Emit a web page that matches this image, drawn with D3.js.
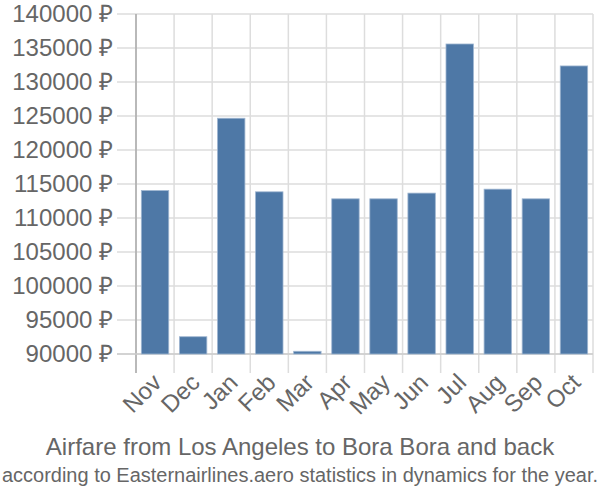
<!DOCTYPE html>
<html><head><meta charset="utf-8">
<script src="https://cdn.jsdelivr.net/npm/d3@7"></script>
<style>body{margin:0;background:#fff}text{font-family:"Liberation Sans",Arial,sans-serif;fill:#666}</style>
</head><body><svg id="c" width="600" height="500"></svg>
<script>
const months = ["Nov","Dec","Jan","Feb","Mar","Apr","May","Jun","Jul","Aug","Sep","Oct"];
const prices = [114040,92540,124670,113850,90400,112820,112820,113660,135590,114240,112820,132360];
const yTicks = [90000,95000,100000,105000,110000,115000,120000,125000,130000,135000,140000];
const titleText = "Airfare from Los Angeles to Bora Bora and back";
const subtitleText = "according to Easternairlines.aero statistics in dynamics for the year.";

const svg = d3.select("#c");
const m = {l:136, r:7, t:14, b:146};
const W = 600, H = 500;
const x = d3.scaleBand().domain(months).range([m.l, W-m.r]).paddingInner(0.28).paddingOuter(0.14);
const y = d3.scaleLinear().domain([90000,140000]).range([H-m.b, m.t]);

const g = svg.append("g");
g.selectAll(".hg").data(yTicks).join("line")
  .attr("x1", m.l-19).attr("x2", W-m.r)
  .attr("y1", d=>y(d)).attr("y2", d=>y(d))
  .attr("stroke","#dddddd").attr("stroke-width",1.5);
const bounds = months.map(d=>x(d) - (x.step()-x.bandwidth())/2);
bounds.push(W-m.r);
g.selectAll(".vg").data(bounds).join("line")
  .attr("x1", d=>d).attr("x2", d=>d)
  .attr("y1", m.t).attr("y2", H-m.b+19)
  .attr("stroke","#dddddd").attr("stroke-width",1.5);
svg.append("line").attr("x1",m.l).attr("x2",m.l).attr("y1",m.t).attr("y2",H-m.b+19).attr("stroke","#aaaaaa").attr("stroke-width",1.5);
svg.append("line").attr("x1",m.l-19).attr("x2",W-m.r).attr("y1",H-m.b).attr("y2",H-m.b).attr("stroke","#cccccc").attr("stroke-width",1.5);

svg.selectAll(".bar").data(months).join("rect")
  .attr("x", d=>x(d)).attr("width", x.bandwidth())
  .attr("y", (d,i)=>y(prices[i])).attr("height", (d,i)=>y(90000)-y(prices[i]))
  .attr("fill","#4e78a6").attr("stroke","#9fb6d1").attr("stroke-width",0.8);

svg.selectAll(".yl").data(yTicks).join("text")
  .attr("x", m.l-23).attr("y", d=>y(d)).attr("dy","0.35em")
  .attr("text-anchor","end").attr("font-size",24)
  .text(d=>d+" ₽");

svg.selectAll(".xl").data(months).join("text")
  .attr("transform", d=>`translate(${x(d)+x.bandwidth()/2+8},${H-m.b+30}) rotate(-45)`)
  .attr("text-anchor","end").attr("font-size",24)
  .text(d=>d);

svg.append("text").attr("x",300).attr("y",455).attr("text-anchor","middle").attr("font-size",24).text(titleText);
svg.append("text").attr("x",300).attr("y",482).attr("text-anchor","middle").attr("font-size",20)
  .attr("textLength",596).attr("lengthAdjust","spacingAndGlyphs").text(subtitleText);
</script></body></html>
